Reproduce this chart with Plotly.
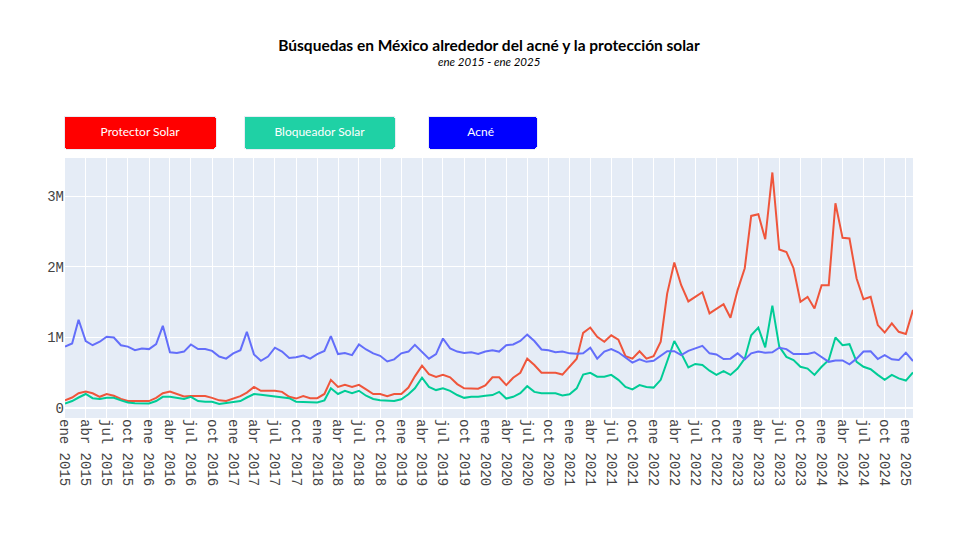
import plotly.graph_objects as go
import pandas as pd

# monthly searches (millions), ene 2015 - feb 2025
meses = pd.date_range("2015-01-01", periods=122, freq="MS")

protector_solar = [
    0.11, 0.15, 0.21, 0.235, 0.21, 0.16, 0.20, 0.175, 0.13, 0.10, 0.10, 0.10,
    0.10, 0.145, 0.21, 0.235, 0.20, 0.165, 0.17, 0.17, 0.17, 0.145, 0.11, 0.10,
    0.135, 0.17, 0.22, 0.30, 0.245, 0.245, 0.245, 0.23, 0.16, 0.135, 0.17, 0.14,
    0.14, 0.20, 0.40, 0.30, 0.33, 0.30, 0.33, 0.265, 0.20, 0.20, 0.17, 0.20,
    0.20, 0.29, 0.45, 0.60, 0.48, 0.44, 0.47, 0.435, 0.34, 0.28, 0.275, 0.275,
    0.32, 0.435, 0.435, 0.325, 0.43, 0.50, 0.70, 0.61, 0.50, 0.50, 0.50, 0.475,
    0.585, 0.70, 1.065, 1.14, 1.01, 0.94, 1.03, 0.97, 0.735, 0.70, 0.805, 0.70,
    0.735, 0.94, 1.62, 2.06, 1.74, 1.51, 1.575, 1.64, 1.34, 1.40, 1.47, 1.28,
    1.67, 1.98, 2.72, 2.745, 2.39, 3.335, 2.245, 2.21, 1.98, 1.505, 1.575, 1.41,
    1.74, 1.74, 2.90, 2.41, 2.40, 1.835, 1.54, 1.575, 1.175, 1.07, 1.20, 1.08,
    1.05, 1.39,
]

bloqueador_solar = [
    0.065, 0.10, 0.15, 0.20, 0.14, 0.13, 0.145, 0.145, 0.11, 0.08, 0.07, 0.065,
    0.065, 0.10, 0.16, 0.16, 0.15, 0.13, 0.16, 0.10, 0.09, 0.09, 0.06, 0.075,
    0.08, 0.10, 0.15, 0.20, 0.19, 0.175, 0.165, 0.155, 0.14, 0.09, 0.09, 0.085,
    0.08, 0.11, 0.28, 0.20, 0.245, 0.21, 0.245, 0.175, 0.13, 0.11, 0.10, 0.10,
    0.125, 0.195, 0.28, 0.43, 0.30, 0.255, 0.28, 0.245, 0.185, 0.145, 0.16, 0.16,
    0.175, 0.185, 0.23, 0.135, 0.16, 0.21, 0.31, 0.23, 0.21, 0.215, 0.21, 0.18,
    0.195, 0.28, 0.475, 0.50, 0.445, 0.445, 0.47, 0.40, 0.30, 0.265, 0.325, 0.30,
    0.29, 0.40, 0.655, 0.95, 0.775, 0.575, 0.625, 0.61, 0.53, 0.47, 0.525, 0.47,
    0.56, 0.70, 1.03, 1.14, 0.86, 1.45, 0.87, 0.725, 0.68, 0.585, 0.56, 0.47,
    0.585, 0.68, 1.00, 0.89, 0.905, 0.655, 0.585, 0.55, 0.47, 0.40, 0.47, 0.42,
    0.39, 0.505,
]

acne = [
    0.87, 0.915, 1.25, 0.95, 0.89, 0.94, 1.01, 1.00, 0.89, 0.87, 0.82, 0.845,
    0.835, 0.905, 1.165, 0.79, 0.78, 0.80, 0.90, 0.835, 0.835, 0.81, 0.73, 0.70,
    0.775, 0.82, 1.08, 0.76, 0.67, 0.73, 0.855, 0.80, 0.71, 0.72, 0.745, 0.70,
    0.765, 0.81, 1.02, 0.765, 0.78, 0.75, 0.90, 0.83, 0.775, 0.74, 0.66, 0.69,
    0.775, 0.80, 0.895, 0.80, 0.70, 0.765, 0.985, 0.845, 0.80, 0.78, 0.79, 0.765,
    0.80, 0.82, 0.80, 0.89, 0.90, 0.95, 1.04, 0.95, 0.83, 0.82, 0.79, 0.80,
    0.775, 0.77, 0.775, 0.855, 0.70, 0.80, 0.835, 0.79, 0.715, 0.645, 0.69, 0.655,
    0.67, 0.735, 0.805, 0.805, 0.75, 0.81, 0.84, 0.88, 0.775, 0.76, 0.695, 0.70,
    0.775, 0.69, 0.775, 0.80, 0.785, 0.79, 0.855, 0.835, 0.765, 0.765, 0.765, 0.79,
    0.725, 0.655, 0.675, 0.675, 0.62, 0.70, 0.80, 0.805, 0.695, 0.75, 0.69, 0.68,
    0.785, 0.665,
]

nombres_mes = ["ene", "abr", "jul", "oct"]
tick_fechas = pd.date_range("2015-01-01", "2025-01-01", freq="3MS")
tick_textos = [nombres_mes[(f.month - 1) // 3] + " " + str(f.year) for f in tick_fechas]

series = [
    ("Protector Solar", protector_solar, "#EF553B"),
    ("Bloqueador Solar", bloqueador_solar, "#00CC96"),
    ("Acné", acne, "#636EFA"),
]

fig = go.Figure()
for nombre, valores, color in series:
    fig.add_trace(go.Scatter(
        x = meses,
        y = [v * 1e6 for v in valores],
        mode = "lines",
        name = nombre,
        line = dict(color = color, width = 2),
    ))

# one single-button menu per series; nbsp padding widens the buttons
nb = "\u00a0"
botones = [
    ("Protector Solar", "#FF0000", -0.0024, (8, 8), [True, False, False]),
    ("Bloqueador Solar", "#1FD1A5", 0.2099, (6, 6), [False, True, False]),
    ("Acné", "#0000FF", 0.4269, (9, 10), [False, False, True]),
]
menus = []
for label, bg, xpos, (pl, pr), vis in botones:
    menus.append(dict(
        type = "buttons",
        direction = "right",
        active = -1,
        showactive = False,
        x = xpos,
        y = 1.1657,
        xanchor = "left",
        yanchor = "top",
        pad = dict(r = 0, l = 0, t = 0, b = 0),
        bgcolor = bg,
        bordercolor = "#E8ECF4",
        borderwidth = 1,
        font = dict(color = "white", size = 12, family = "Lato"),
        buttons = [dict(
            label = nb * pl + label + nb * pr,
            method = "update",
            args = [{"visible": vis}],
        )],
    ))

# page body adds 8px offset, so the figure is 952x532
fig.update_layout(
    width = 952,
    height = 532,
    showlegend = False,
    margin = dict(l = 57, r = 47, t = 150, b = 122, autoexpand = False),
    title = dict(
        text = "<b>Búsquedas en México alrededor del acné y la protección solar</b>",
        x = 0.5,
        xref = "paper",
        xanchor = "center",
        y = 1 - 38 / 532,
        yref = "container",
        yanchor = "middle",
        font = dict(size = 15.5, family = "Lato", color = "black"),
    ),
    annotations = [dict(
        text = "<i>ene 2015 - ene 2025</i>",
        x = 0.5,
        xref = "paper",
        y = 1.37,
        yref = "paper",
        xanchor = "center",
        yanchor = "middle",
        showarrow = False,
        font = dict(size = 11.5, family = "Lato", color = "black"),
    )],
    updatemenus = menus,
    plot_bgcolor = "#E5ECF6",
    paper_bgcolor = "white",
)
fig.update_xaxes(
    tickvals = tick_fechas,
    ticktext = tick_textos,
    tickangle = 90,
    tickfont = dict(family = "Courier New", size = 14, color = "#444"),
    gridcolor = "white",
    showline = False,
    automargin = False,
)
fig.update_yaxes(
    range = [-0.14e6, 3.54e6],
    dtick = 1e6,
    tickfont = dict(family = "Courier New", size = 14, color = "#444"),
    gridcolor = "white",
    zeroline = True,
    zerolinecolor = "white",
    zerolinewidth = 2,
    automargin = False,
)

fig.write_html("out.html")
